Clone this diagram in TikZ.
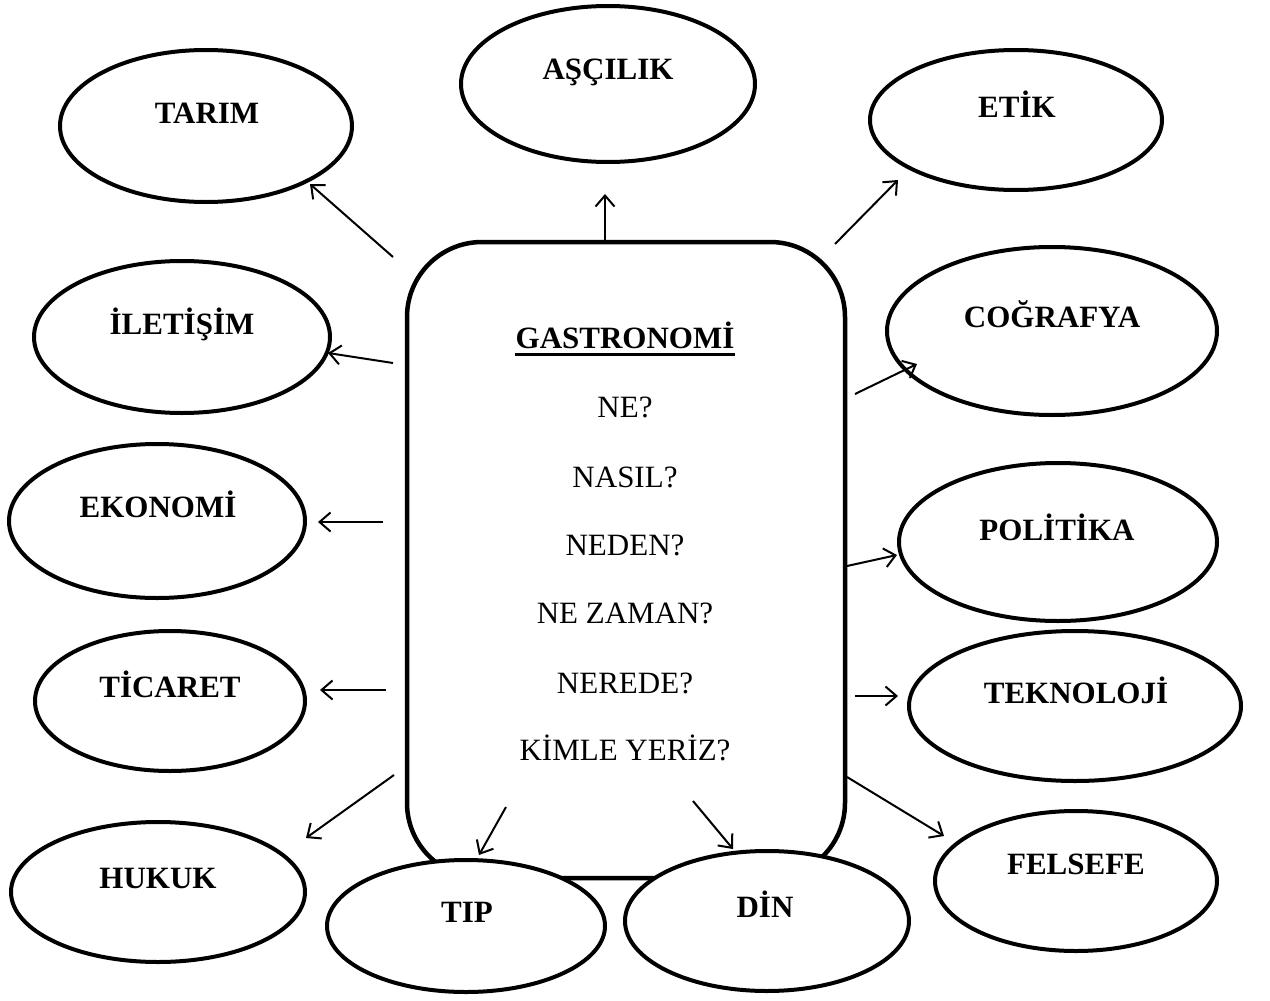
\documentclass[tikz,border=0pt]{standalone}
\usepackage{fontspec}
\setmainfont{Liberation Serif}
\usetikzlibrary{shapes.geometric,arrows.meta}
\begin{document}
\begin{tikzpicture}[x=1pt,y=-1pt,
  topic/.style={ellipse,draw,fill=white,line width=4pt,inner sep=0pt},
  lbl/.style={anchor=base,inner sep=0pt,font=\fontsize{31}{37}\selectfont\bfseries},
  qtxt/.style={anchor=base,inner sep=0pt,font=\fontsize{31}{37}\selectfont},
  arr/.style={line width=2pt,-{Straight Barb[length=11pt,width=19pt,line width=2pt]}}]
\useasboundingbox (0,0) rectangle (1270,1001);
% central box
\node[draw,line width=4.5pt,rounded corners=75pt,inner sep=0pt,
  minimum width=438pt,minimum height=636pt] (box) at (626,560) {};
\node[qtxt,font=\fontsize{31}{37}\selectfont\bfseries] (g) at (625,348) {GASTRONOMİ};
\draw[line width=3pt] ([yshift=-6pt]g.base west) -- ([yshift=-6pt]g.base east);
\node[qtxt] (q1) at (625,417) {NE?};
\node[qtxt] (q2) at (625,487) {NASIL?};
\node[qtxt] (q3) at (625,555) {NEDEN?};
\node[qtxt] (q4) at (625,623) {NE ZAMAN?};
\node[qtxt] (q5) at (625,693) {NEREDE?};
\node[qtxt] (q6) at (625,760) {KİMLE YERİZ?};
% ellipses
\node[topic,minimum width=292pt,minimum height=152pt] (tarim) at (206,126) {};
\node[topic,minimum width=294pt,minimum height=156pt] (ascilik) at (608,84) {};
\node[topic,minimum width=292pt,minimum height=140pt] (etik) at (1016,120) {};
\node[topic,minimum width=296pt,minimum height=152pt] (iletisim) at (182,337) {};
\node[topic,minimum width=330pt,minimum height=168pt] (cografya) at (1052,331) {};
\node[topic,minimum width=296pt,minimum height=154pt] (ekonomi) at (157,521) {};
\node[topic,minimum width=318pt,minimum height=158pt] (politika) at (1058,542) {};
\node[topic,minimum width=270pt,minimum height=140pt] (ticaret) at (170,701) {};
\node[topic,minimum width=332pt,minimum height=150pt] (teknoloji) at (1075,706) {};
\node[topic,minimum width=294pt,minimum height=140pt] (hukuk) at (158,892) {};
\node[topic,minimum width=278pt,minimum height=132pt] (tip) at (466,926) {};
\node[topic,minimum width=284pt,minimum height=140pt] (din) at (767,921) {};
\node[topic,minimum width=282pt,minimum height=140pt] (felsefe) at (1076,881) {};
% labels
\node[lbl] (ltarim) at (207,123) {TARIM};
\node[lbl] (lascilik) at (608,79) {AŞÇILIK};
\node[lbl] (letik) at (1017,117) {ETİK};
\node[lbl] (liletisim) at (182,334) {İLETİŞİM};
\node[lbl] (lcografya) at (1052,327) {COĞRAFYA};
\node[lbl] (lekonomi) at (158,517) {EKONOMİ};
\node[lbl] (lpolitika) at (1057,540) {POLİTİKA};
\node[lbl] (lticaret) at (170,697) {TİCARET};
\node[lbl] (lteknoloji) at (1076,703) {TEKNOLOJİ};
\node[lbl] (lhukuk) at (158,888) {HUKUK};
\node[lbl] (ltip) at (467,922) {TIP};
\node[lbl] (ldin) at (765,917) {DİN};
\node[lbl] (lfelsefe) at (1076,874) {FELSEFE};
% arrow end points
\coordinate (s1) at (393,257); \coordinate (t1) at (310,184);
\coordinate (s2) at (605,240); \coordinate (t2) at (605,194);
\coordinate (s3) at (835,244); \coordinate (t3) at (898,180);
\coordinate (s4) at (393,363); \coordinate (t4) at (328,353);
\coordinate (s5) at (855,394); \coordinate (t5) at (917,364);
\coordinate (s6) at (383,522); \coordinate (t6) at (318,522);
\coordinate (s7) at (847,566); \coordinate (t7) at (897,555);
\coordinate (s8) at (386,690); \coordinate (t8) at (320,690);
\coordinate (s9) at (855,696); \coordinate (t9) at (898,696);
\coordinate (s10) at (394,775); \coordinate (t10) at (306,838);
\coordinate (s11) at (506,807); \coordinate (t11) at (479,855);
\coordinate (s12) at (693,801); \coordinate (t12) at (733,849);
\coordinate (s13) at (847,777); \coordinate (t13) at (944,836);
\foreach \i in {1,...,13} {\draw[arr] (s\i) -- (t\i);}
\end{tikzpicture}
\end{document}
